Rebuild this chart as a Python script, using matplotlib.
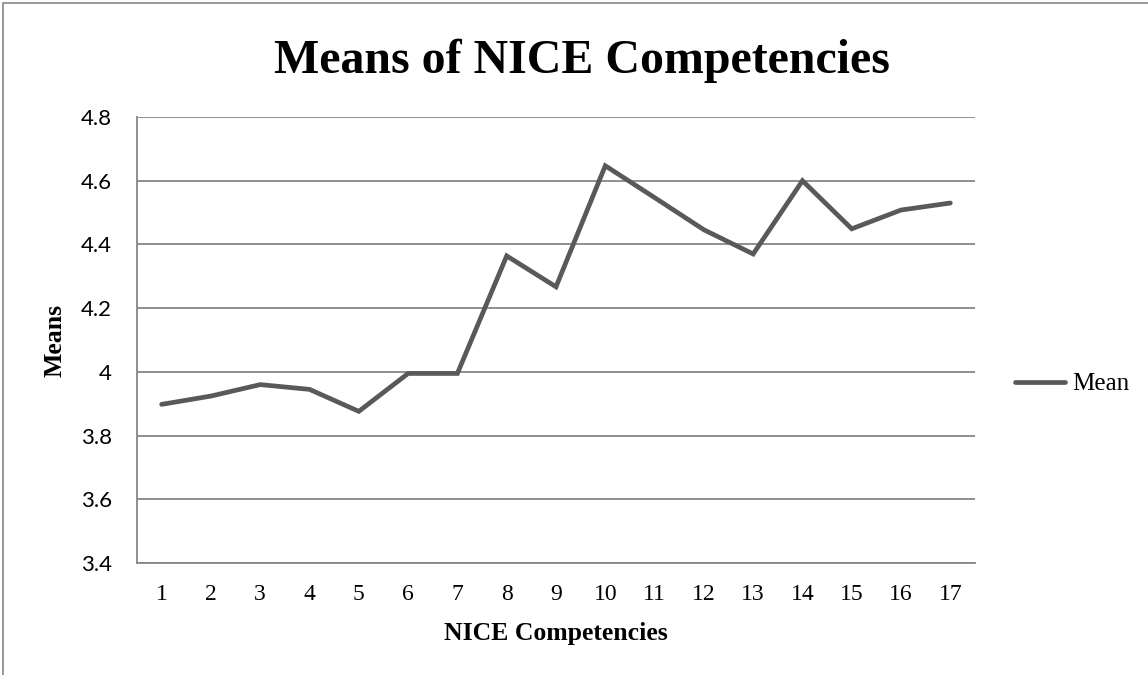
import numpy as np
import matplotlib.pyplot as plt
from matplotlib.patches import Rectangle

# data
competencies = list(range(1, 18))
means = [3.898, 3.924, 3.960, 3.945, 3.876, 3.995, 3.995, 4.364, 4.267,
         4.647, 4.547, 4.446, 4.370, 4.600, 4.449, 4.508, 4.530]
yticks = [3.4, 3.6, 3.8, 4.0, 4.2, 4.4, 4.6, 4.8]
ytick_labels = ["3.4", "3.6", "3.8", "4", "4.2", "4.4", "4.6", "4.8"]

serif = "Liberation Serif"
sans = "Lato"
W, H = 1148, 675

fig = plt.figure(figsize=(W / 100, H / 100), dpi=100)
ax = fig.add_axes([137 / W, 1 - 563 / H, 838 / W, 446 / H])

ax.plot(competencies, means, color="#595959", linewidth=3.4,
        solid_capstyle="round", solid_joinstyle="miter", label="Mean", zorder=3)

ax.set_xlim(0.5, 17.5)
ax.set_ylim(3.4, 4.8)
ax.set_xticks(competencies)
ax.set_xticklabels([str(c) for c in competencies], fontfamily=serif, fontsize=17)
ax.set_yticks(yticks)
ax.set_yticklabels(ytick_labels, fontfamily=sans, fontsize=16)
ax.tick_params(axis="x", length=0, pad=15)
ax.tick_params(axis="y", length=0, pad=18)

ax.grid(axis="y", color="#878787", linewidth=1.3)
ax.set_axisbelow(True)
for s in ["top", "right"]:
    ax.spines[s].set_visible(False)
for s in ["left", "bottom"]:
    ax.spines[s].set_color("#878787")
    ax.spines[s].set_linewidth(1.3)

ax.set_xlabel("NICE Competencies", fontfamily=serif, fontweight="bold", fontsize=18.5)
ax.xaxis.set_label_coords(0.5, -(622 - 563) / 446)
ax.set_ylabel("Means", fontfamily=serif, fontweight="bold", fontsize=18.5)
ax.yaxis.label.set_va("center")
ax.yaxis.set_label_coords((55 - 137) / 838, 0.5)

fig.text(582 / W, 1 - 73 / H, "Means of NICE Competencies", ha="center", va="baseline",
         fontfamily=serif, fontweight="bold", fontsize=34.5)

fig.legend(loc="center left", bbox_to_anchor=(1015 / W, 1 - 384 / H), frameon=False,
           prop={"family": serif, "size": 18}, handlelength=2.0, handletextpad=0.28,
           borderaxespad=0, borderpad=0)

fig.patches.append(Rectangle((3 / W, -0.05), 1.2, 1.05 - 3 / H, transform=fig.transFigure,
                             fill=False, edgecolor="#878787", linewidth=1.2))

fig.savefig("out.png", dpi=100)
